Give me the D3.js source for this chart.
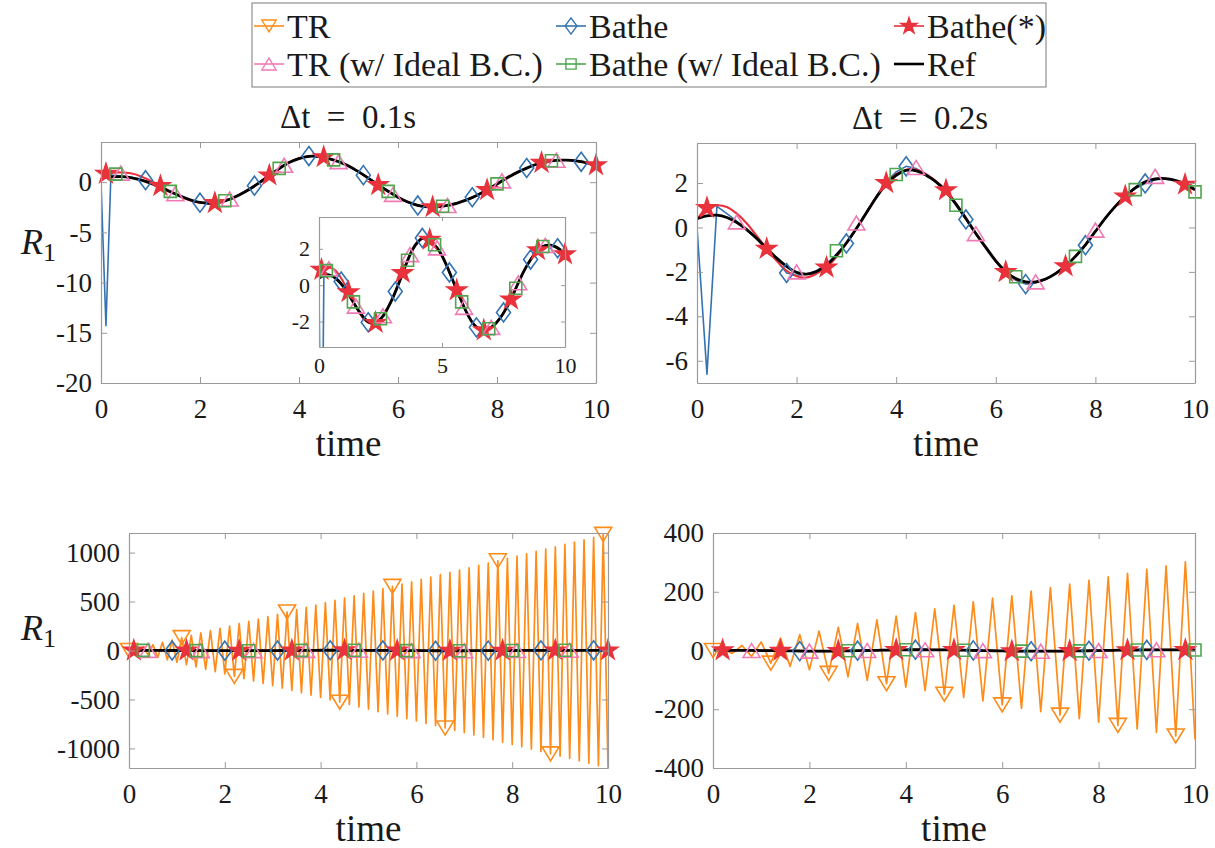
<!DOCTYPE html>
<html>
<head>
<meta charset="utf-8">
<script src="https://cdn.jsdelivr.net/npm/d3@7"></script>
<style>
  body { margin: 0; background: #fff; }
  text { font-family: "Liberation Serif", "Times New Roman", serif; fill: #1a1a1a; }
</style>
</head>
<body>
<script>
// ---- data ----
// time grid of the dt = 0.2 s runs
var tGrid02 = d3.range(51).map(function(i) { return +(i * 0.2).toFixed(1); });
var tGrid01 = d3.range(101).map(function(i) { return +(i * 0.1).toFixed(1); });

// reference solution R1 on the 0.2 s grid
var refR1 = [0.40, 0.52, 0.55, 0.45, 0.22, -0.10, -0.50, -0.95, -1.38, -1.75, -2.02,
  -2.10, -1.98, -1.70, -1.25, -0.70, -0.05, 0.65, 1.35, 1.95, 2.35,
  2.57, 2.55, 2.35, 2.05, 1.62, 1.05, 0.40, -0.27, -0.90, -1.50,
  -1.98, -2.30, -2.45, -2.45, -2.32, -2.08, -1.74, -1.30, -0.78, -0.18,
  0.42, 0.95, 1.40, 1.78, 2.05, 2.18, 2.20, 2.12, 1.95, 1.70];

// dt = 0.2 s
var bathe02 = [0, -6.6, 0.95, 0.62, 0.28, -0.12, -0.52, -1.00, -1.48, -2.05, -2.15,
  -2.10, -1.95, -1.65, -1.20, -0.72, -0.05, 0.70, 1.40, 2.05, 2.50,
  2.75, 2.65, 2.40, 2.05, 1.60, 1.00, 0.36, -0.32, -0.95, -1.55,
  -2.05, -2.38, -2.55, -2.50, -2.33, -2.05, -1.72, -1.28, -0.80, -0.20,
  0.40, 0.95, 1.38, 1.75, 1.98, 2.15, 2.18, 2.10, 1.92, 1.68];
var batheStar02 = [0.35, 0.88, 1.00, 0.92, 0.62, 0.18, -0.38, -0.96, -1.50, -1.95, -2.20,
  -2.25, -2.08, -1.80, -1.32, -0.72, -0.05, 0.67, 1.38, 2.00, 2.40,
  2.60, 2.60, 2.40, 2.08, 1.68, 1.08, 0.42, -0.27, -0.92, -1.52,
  -2.00, -2.32, -2.47, -2.47, -2.33, -2.08, -1.74, -1.30, -0.78, -0.17,
  0.42, 0.95, 1.40, 1.78, 2.05, 2.18, 2.20, 2.12, 1.93, 1.68];
var tr02 = [0, 6, -10, 17, -20, 29, -43, 42, -54, 54, -66,
  66, -78, 79, -90, 92, -102, 104, -113, 117, -125,
  129, -137, 142, -149, 154, -160, 166, -172, 178, -185,
  186, -197, 202, -208, 214, -220, 226, -232, 239, -244,
  251, -255, 263, -267, 276, -279, 288, -291, 302, -303];
var batheIdx02 = [9, 15, 21, 27, 33, 39, 45];
var starIdx02 = [1, 7, 13, 19, 25, 31, 37, 43, 49];
var trIdx02 = [0, 6, 12, 18, 24, 30, 36, 42, 48];
var trIdeal02 = [[0.8, 0.25], [2.0, -2.0], [3.2, 0.2], [4.4, 2.7], [5.6, -0.28], [6.8, -2.45], [8.0, -0.12], [9.2, 2.3]];
var batheIdeal02 = [[2.8, -1.05], [4.0, 2.38], [5.2, 1.0], [6.4, -2.22], [7.6, -1.3], [8.8, 1.7], [10.0, 1.6]];

// dt = 0.1 s  ([time, R1] pairs)
var bathe01 = [[0, 0], [0.1, -14.3], [0.2, 0.72], [0.4, 0.6], [0.6, 0.48], [0.8, 0.3], [1.0, -0.05],
  [1.2, -0.48], [1.4, -0.93], [1.6, -1.37], [1.8, -1.76], [2.0, -2.04], [2.2, -2.1], [2.4, -1.97],
  [2.6, -1.68], [2.8, -1.22], [3.0, -0.66], [3.2, -0.02], [3.4, 0.68], [3.6, 1.37], [3.8, 1.97],
  [4.0, 2.38], [4.2, 2.6], [4.4, 2.57], [4.6, 2.36], [4.8, 2.05], [5.0, 1.6], [5.2, 1.02],
  [5.4, 0.37], [5.6, -0.3], [5.8, -0.93], [6.0, -1.52], [6.2, -2.0], [6.4, -2.32], [6.6, -2.47],
  [6.8, -2.46], [7.0, -2.32], [7.2, -2.07], [7.4, -1.72], [7.6, -1.28], [7.8, -0.76], [8.0, -0.16],
  [8.2, 0.44], [8.4, 0.97], [8.6, 1.41], [8.8, 1.79], [9.0, 2.06], [9.2, 2.19], [9.4, 2.2],
  [9.6, 2.11], [9.8, 1.93], [10, 1.68]];
var batheStar01 = [[0, 0.7], [0.1, 0.85], [0.2, 0.93], [0.4, 0.97], [0.6, 0.88], [0.8, 0.6], [1.0, 0.15],
  [1.2, -0.38], [1.4, -0.92], [1.6, -1.42], [1.8, -1.82], [2.0, -2.05], [2.2, -2.12], [2.4, -1.99],
  [2.6, -1.7], [2.8, -1.24], [3.0, -0.67], [3.2, -0.02], [3.4, 0.68], [3.6, 1.38], [3.8, 1.97],
  [4.0, 2.37], [4.2, 2.58], [4.4, 2.57], [4.6, 2.36], [4.8, 2.05], [5.0, 1.62], [5.2, 1.04],
  [5.4, 0.39], [5.6, -0.28], [5.8, -0.91], [6.0, -1.51], [6.2, -1.99], [6.4, -2.31], [6.6, -2.46],
  [6.8, -2.46], [7.0, -2.32], [7.2, -2.08], [7.4, -1.74], [7.6, -1.3], [7.8, -0.78], [8.0, -0.18],
  [8.2, 0.42], [8.4, 0.95], [8.6, 1.4], [8.8, 1.78], [9.0, 2.05], [9.2, 2.18], [9.4, 2.2],
  [9.6, 2.12], [9.8, 1.95], [10, 1.7]];
var batheMarks01 = [[0.9, 0.2], [2.0, -2.04], [3.1, -0.35], [4.2, 2.6], [5.3, 0.7], [6.4, -2.32], [7.5, -1.5], [8.6, 1.41], [9.7, 2.03]];
var starMarks01 = [[0.1, 0.85], [1.2, -0.38], [2.3, -2.07], [3.4, 0.68], [4.5, 2.5], [5.6, -0.28], [6.7, -2.48], [7.8, -0.78], [8.9, 1.93], [10.0, 1.7]];
var trIdeal01 = [[0.4, 0.9], [1.5, -1.15], [2.6, -1.68], [3.7, 1.68], [4.8, 2.05], [5.9, -1.22], [7.0, -2.32], [8.1, 0.13], [9.2, 2.19]];
var batheIdeal01 = [[0.3, 0.8], [1.4, -0.92], [2.5, -1.85], [3.6, 1.37], [4.7, 2.22], [5.8, -0.92], [6.9, -2.4], [8.0, -0.17], [9.1, 2.13]];
var tr01 = [0, 12, -24, 37, -47, 60, -71, 84, -96, 107, -120,
  131, -144, 155, -168, 179, -192, 202, -216, 226, -240,
  250, -264, 274, -288, 298, -312, 321, -336, 345, -360,
  369, -384, 393, -408, 417, -432, 440, -456, 464, -480,
  488, -504, 512, -528, 536, -552, 559, -576, 583, -600,
  607, -624, 631, -648, 655, -672, 678, -696, 702, -720,
  726, -744, 750, -768, 774, -792, 797, -816, 821, -840,
  845, -864, 869, -888, 893, -912, 916, -936, 940, -960,
  964, -984, 988, -1008, 1012, -1032, 1035, -1056, 1059, -1080,
  1083, -1104, 1107, -1128, 1131, -1152, 1156, -1176, 1186, -1200];
var trIdx01 = [0, 11, 22, 33, 44, 55, 66, 77, 88, 99];

var seriesNames = ["TR", "Bathe", "Bathe(*)", "TR (w/ Ideal B.C.)", "Bathe (w/ Ideal B.C.)", "Ref"];
var colors = {tr: "#fd8c1b", bathe: "#3473b2", star: "#e8323c", trIdeal: "#f07bb4", batheIdeal: "#4fa64f", ref: "#000"};

var W = 1215, H = 848;
var svg = d3.select("body").append("svg").attr("width", W).attr("height", H);

// ---- helpers ----
function pairs(times, vals) { return vals.map(function(v, i) { return [times[i], v]; }); }
function pick(arr, idx) { return idx.map(function(i) { return arr[i]; }); }

function markerPath(type) {
  if (type == "v") return "M-8.5,-7L8.5,-7L0,7Z";
  if (type == "^") return "M-8.5,7L8.5,7L0,-7Z";
  if (type == "d") return "M0,-9.5L7,0L0,9.5L-7,0Z";
  if (type == "s") return "M-6,-6h12v12h-12Z";
  return d3.symbol(d3.symbolStar, 115)();
}

var clipCount = 0;
function makePanel(cfg) {
  var x = d3.scaleLinear().domain([0, 10]).range([cfg.x0, cfg.x1]);
  var y = d3.scaleLinear().domain(cfg.ydom).range([cfg.y1, cfg.y0]);
  var g = svg.append("g");
  g.append("rect")
    .attr("x", cfg.x0).attr("y", cfg.y0)
    .attr("width", cfg.x1 - cfg.x0).attr("height", cfg.y1 - cfg.y0)
    .attr("fill", "#fff");
  var id = "clip" + (clipCount++);
  g.append("clipPath").attr("id", id).append("rect")
    .attr("x", cfg.x0).attr("y", cfg.y0)
    .attr("width", cfg.x1 - cfg.x0).attr("height", cfg.y1 - cfg.y0);
  var lines = g.append("g").attr("clip-path", "url(#" + id + ")");
  var marks = g.append("g");
  return {cfg: cfg, x: x, y: y, g: g, lines: lines, marks: marks};
}

function addLine(p, data, color, width, smooth) {
  var line = d3.line()
    .x(function(d) { return p.x(d[0]); })
    .y(function(d) { return p.y(d[1]); })
    .curve(smooth ? d3.curveCatmullRom : d3.curveLinear);
  p.lines.append("path")
    .datum(data)
    .attr("d", line)
    .attr("fill", "none")
    .attr("stroke", color)
    .attr("stroke-width", width)
    .attr("stroke-linejoin", "round");
}

function addMarks(p, data, type, color) {
  p.marks.selectAll(null)
    .data(data)
    .enter()
    .append("path")
    .attr("transform", function(d) { return "translate(" + p.x(d[0]) + "," + p.y(d[1]) + ")"; })
    .attr("d", markerPath(type))
    .attr("fill", type == "p" ? color : "none")
    .attr("stroke", color)
    .attr("stroke-width", 1.6);
}

function drawAxes(p) {
  var c = p.cfg, fmt = function(d) { return String(d); };
  var tl = c.tick || 6;
  var axes = p.g.append("g");
  axes.append("g").attr("transform", "translate(0," + c.y1 + ")")
    .call(d3.axisBottom(p.x).tickValues(c.xticks).tickSizeInner(-tl).tickSizeOuter(0).tickPadding(c.xpad).tickFormat(fmt));
  axes.append("g").attr("transform", "translate(" + c.x0 + ",0)")
    .call(d3.axisLeft(p.y).tickValues(c.yticks).tickSizeInner(-tl).tickSizeOuter(0).tickPadding(9).tickFormat(fmt));
  axes.append("g").attr("transform", "translate(0," + c.y0 + ")")
    .call(d3.axisTop(p.x).tickValues(c.xticks).tickSizeInner(-tl).tickSizeOuter(0).tickFormat(""));
  axes.append("g").attr("transform", "translate(" + c.x1 + ",0)")
    .call(d3.axisRight(p.y).tickValues(c.yticks).tickSizeInner(-tl).tickSizeOuter(0).tickFormat(""));
  axes.selectAll(".domain").attr("stroke", "#9a9a9a").attr("stroke-width", 1.2);
  axes.selectAll(".tick line").attr("stroke", "#9a9a9a").attr("stroke-width", 1);
  axes.selectAll("g").attr("font-family", null).attr("font-size", null);
  axes.selectAll(".tick text").attr("fill", "#1a1a1a").style("font-size", c.font + "px");
}

function axisLabels(p, title, titleX, xlab, ylab) {
  var c = p.cfg, cx = (c.x0 + c.x1) / 2;
  if (title) {
    svg.append("text").attr("x", titleX).attr("y", c.y0 - 14)
      .attr("text-anchor", "middle").style("font-size", "33px").text(title);
  }
  svg.append("text").attr("x", cx).attr("y", c.y1 + 73)
    .attr("text-anchor", "middle").style("font-size", "37px").text(xlab);
  if (ylab) {
    var t = svg.append("text").attr("x", 21).attr("y", ylab).style("font-size", "36px");
    t.append("tspan").style("font-style", "italic").text("R");
    t.append("tspan").attr("dy", 7).style("font-size", "26px").text("1");
  }
}

// ---- panels ----
var cfgs = [
  {x0: 101, x1: 596, y0: 142, y1: 383, ydom: [-20, 4], yticks: [-20, -15, -10, -5, 0], xticks: [0, 2, 4, 6, 8, 10], xpad: 16, font: 27},
  {x0: 697, x1: 1195, y0: 143, y1: 383, ydom: [-7, 3.8], yticks: [-6, -4, -2, 0, 2], xticks: [0, 2, 4, 6, 8, 10], xpad: 16, font: 27},
  {x0: 129, x1: 608, y0: 533, y1: 768, ydom: [-1200, 1200], yticks: [-1000, -500, 0, 500, 1000], xticks: [0, 2, 4, 6, 8, 10], xpad: 16, font: 27},
  {x0: 713, x1: 1195, y0: 533, y1: 768, ydom: [-400, 400], yticks: [-400, -200, 0, 200, 400], xticks: [0, 2, 4, 6, 8, 10], xpad: 16, font: 27}
];
var insetCfg = {x0: 319, x1: 565, y0: 217, y1: 347, ydom: [-3.4, 3.75], yticks: [-2, 0, 2], xticks: [0, 5, 10], xpad: 10, font: 22, tick: 4};

var ref = pairs(tGrid02, refR1);

function drawDt01(p, withTR) {
  if (withTR) {
    addLine(p, pairs(tGrid01, tr01), colors.tr, 1.7, false);
    addMarks(p, pick(pairs(tGrid01, tr01), trIdx01), "v", colors.tr);
  }
  addLine(p, bathe01, colors.bathe, 1.6, false);
  addMarks(p, batheMarks01, "d", colors.bathe);
  addLine(p, batheStar01, colors.star, 2.1, true);
  addMarks(p, starMarks01, "p", colors.star);
  addMarks(p, trIdeal01, "^", colors.trIdeal);
  addMarks(p, batheIdeal01, "s", colors.batheIdeal);
  addLine(p, ref, colors.ref, 2.8, true);
}

function drawDt02(p, withTR) {
  if (withTR) {
    addLine(p, pairs(tGrid02, tr02), colors.tr, 1.7, false);
    addMarks(p, pick(pairs(tGrid02, tr02), trIdx02), "v", colors.tr);
  }
  var b = pairs(tGrid02, bathe02), s = pairs(tGrid02, batheStar02);
  addLine(p, b, colors.bathe, 1.6, false);
  addMarks(p, pick(b, batheIdx02), "d", colors.bathe);
  addLine(p, s, colors.star, 2.1, true);
  addMarks(p, pick(s, starIdx02), "p", colors.star);
  addMarks(p, trIdeal02, "^", colors.trIdeal);
  addMarks(p, batheIdeal02, "s", colors.batheIdeal);
  addLine(p, ref, colors.ref, 2.8, true);
}

var p1 = makePanel(cfgs[0]); drawDt01(p1, false); drawAxes(p1);
var pin = makePanel(insetCfg); drawDt01(pin, false); drawAxes(pin);
var p2 = makePanel(cfgs[1]); drawDt02(p2, false); drawAxes(p2);
var p3 = makePanel(cfgs[2]); drawDt01(p3, true); drawAxes(p3);
var p4 = makePanel(cfgs[3]); drawDt02(p4, true); drawAxes(p4);

axisLabels(p1, "\u0394t\u2002=\u20020.1s", 348, "time", 254);
axisLabels(p2, "\u0394t\u2002=\u20020.2s", 920, "time", null);
axisLabels(p3, null, 0, "time", 640);
axisLabels(p4, null, 0, "time", null);

// ---- legend ----
var legend = svg.append("g");
legend.append("rect").attr("x", 252).attr("y", 3).attr("width", 794).attr("height", 84)
  .attr("fill", "#fff").attr("stroke", "#8f8f8f").attr("stroke-width", 1.2);
var legendItems = [
  {name: seriesNames[0], color: colors.tr, m: "v", x: 253, y: 26},
  {name: seriesNames[1], color: colors.bathe, m: "d", x: 555, y: 26},
  {name: seriesNames[2], color: colors.star, m: "p", x: 893, y: 26},
  {name: seriesNames[3], color: colors.trIdeal, m: "^", x: 253, y: 64},
  {name: seriesNames[4], color: colors.batheIdeal, m: "s", x: 555, y: 64},
  {name: seriesNames[5], color: colors.ref, m: null, x: 893, y: 64}
];
var li = legend.selectAll(".leg").data(legendItems).enter().append("g")
  .attr("class", "leg")
  .attr("transform", function(d) { return "translate(" + d.x + "," + d.y + ")"; });
li.append("line").attr("x1", 1).attr("x2", 31).attr("y1", 0).attr("y2", 0)
  .attr("stroke", function(d) { return d.color; })
  .attr("stroke-width", function(d) { return d.m ? 1.6 : 2.6; });
li.filter(function(d) { return d.m; }).append("path")
  .attr("transform", "translate(16,0) scale(0.85)")
  .attr("d", function(d) { return markerPath(d.m); })
  .attr("fill", function(d) { return d.m == "p" ? d.color : "none"; })
  .attr("stroke", function(d) { return d.color; })
  .attr("stroke-width", 1.6);
li.append("text").attr("x", 34).attr("y", 12).style("font-size", "34px")
  .text(function(d) { return d.name; });
</script>
</body>
</html>
